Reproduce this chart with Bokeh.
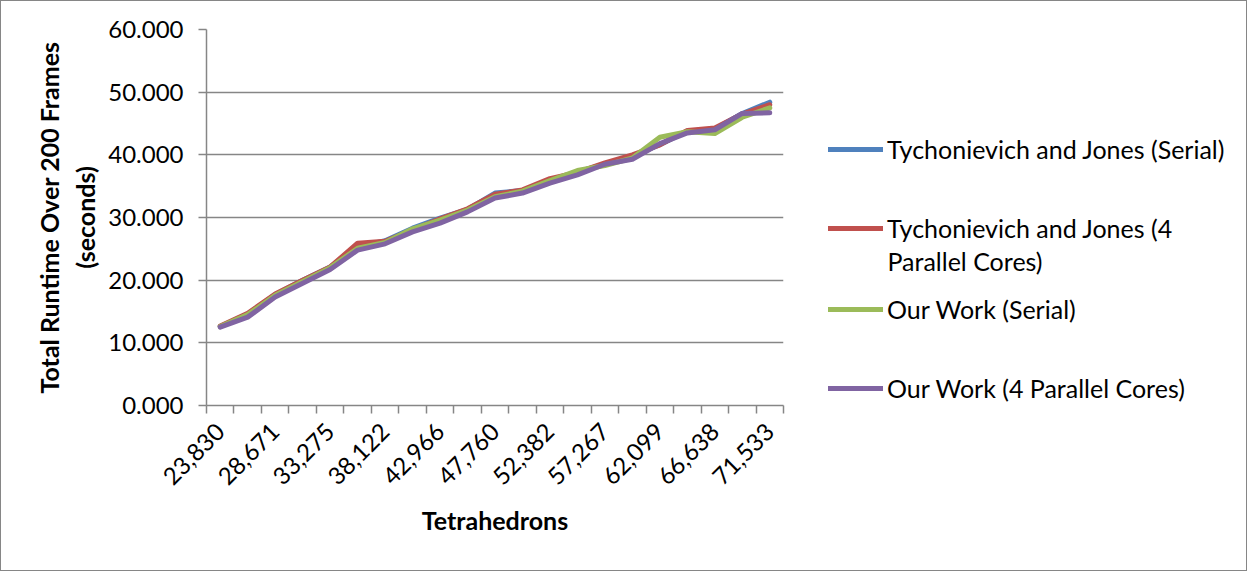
import math
from bokeh.plotting import figure
from bokeh.layouts import row
from bokeh.models import (ColumnDataSource, FixedTicker, NumeralTickFormatter,
                          Legend, LegendItem, Label)
from bokeh.embed import file_html
from bokeh.resources import INLINE

# ---------------- data ----------------
tick_labels = ["23,830", "28,671", "33,275", "38,122", "42,966", "47,760",
               "52,382", "57,267", "62,099", "66,638", "71,533"]
n_points = 21
x_idx = list(range(1, n_points + 1))

tj_serial = [12.6, 14.6, 17.7, 20.0, 22.1, 25.3, 26.3, 28.3, 29.9, 31.3, 33.9,
             34.3, 36.0, 37.2, 38.6, 39.8, 41.6, 43.8, 44.1, 46.6, 48.4]
tj_parallel = [12.7, 14.7, 17.8, 20.0, 22.1, 25.9, 26.2, 28.0, 29.8, 31.4, 33.7,
               34.4, 36.2, 37.2, 38.7, 40.0, 41.6, 43.9, 44.3, 46.5, 48.0]
ow_serial = [12.6, 14.5, 17.6, 19.8, 22.0, 25.1, 26.0, 28.2, 29.6, 31.2, 33.3,
             34.2, 35.9, 37.5, 38.3, 39.5, 42.8, 43.7, 43.4, 46.0, 47.5]
ow_parallel = [12.5, 14.1, 17.3, 19.5, 21.7, 24.8, 25.8, 27.7, 29.1, 30.9, 33.1,
               33.9, 35.5, 36.8, 38.5, 39.3, 41.8, 43.5, 44.0, 46.6, 46.7]

series_names = ["Tychonievich and Jones (Serial)",
                "Tychonievich and Jones (4",
                "Our Work (Serial)",
                "Our Work (4 Parallel Cores)"]
series_values = [tj_serial, tj_parallel, ow_serial, ow_parallel]
colors = ["#4F81BD", "#C0504D", "#9BBB59", "#8064A2"]

FONT = "Lato"
AXIS_COLOR = "#868686"
LINE_W = 5

# ---------------- main chart ----------------
p = figure(width=800, height=569, output_backend="svg", toolbar_location=None,
           x_range=(0.5, n_points + 0.5), y_range=(0, 60),
           min_border_left=205, min_border_right=18,
           min_border_top=28, min_border_bottom=165)
p.outline_line_color = None

sources = []
for vals, col in zip(series_values, colors):
    src = ColumnDataSource(dict(x=x_idx, y=vals))
    sources.append(src)
    p.line("x", "y", source=src, line_color=col, line_width=LINE_W,
           line_join="round", line_cap="round")

# y axis
p.yaxis.ticker = FixedTicker(ticks=[0, 10, 20, 30, 40, 50, 60])
p.yaxis.formatter = NumeralTickFormatter(format="0.000")
p.yaxis.axis_line_color = AXIS_COLOR
p.yaxis.axis_line_width = 1.5
p.yaxis.major_tick_line_color = AXIS_COLOR
p.yaxis.major_tick_line_width = 1.5
p.yaxis.major_tick_in = 0
p.yaxis.major_tick_out = 8
p.yaxis.minor_tick_line_color = None
p.yaxis.major_label_standoff = 15
p.yaxis.major_label_text_font = FONT
p.yaxis.major_label_text_font_size = "24px"
p.yaxis.major_label_text_color = "black"
p.yaxis.axis_label = "Total Runtime Over 200 Frames\n(seconds)"
p.yaxis.axis_label_text_font = FONT
p.yaxis.axis_label_text_font_style = "bold"
p.yaxis.axis_label_text_font_size = "25px"
p.yaxis.axis_label_text_color = "black"
p.yaxis.axis_label_standoff = 5

# x axis: labels at every other category, ticks at category boundaries
label_pos = x_idx[::2]
p.xaxis.ticker = FixedTicker(ticks=label_pos,
                             minor_ticks=[i + 0.5 for i in range(0, n_points + 1)])
p.xaxis.major_label_overrides = {pos: lab for pos, lab in zip(label_pos, tick_labels)}
p.xaxis.major_label_orientation = math.pi / 4
p.xaxis.axis_line_color = AXIS_COLOR
p.xaxis.axis_line_width = 1.5
p.xaxis.major_tick_line_color = None
p.xaxis.major_tick_in = 0
p.xaxis.major_tick_out = 0
p.xaxis.minor_tick_line_color = AXIS_COLOR
p.xaxis.minor_tick_line_width = 1.5
p.xaxis.minor_tick_in = 0
p.xaxis.minor_tick_out = 8
p.xaxis.major_label_standoff = 14
p.xaxis.major_label_text_font = FONT
p.xaxis.major_label_text_font_size = "24px"
p.xaxis.major_label_text_color = "black"
p.xaxis.axis_label = "Tetrahedrons"
p.xaxis.axis_label_text_font = FONT
p.xaxis.axis_label_text_font_style = "bold"
p.xaxis.axis_label_text_font_size = "25px"
p.xaxis.axis_label_text_color = "black"
p.xaxis.axis_label_standoff = 9

p.xgrid.grid_line_color = None
p.ygrid.grid_line_color = AXIS_COLOR
p.ygrid.grid_line_width = 1.5

# ---------------- legend panel ----------------
lp = figure(width=445, height=569, output_backend="svg", toolbar_location=None,
            x_range=(-100, -90), y_range=(0, 1),
            x_axis_location=None, y_axis_location=None,
            min_border=0)
lp.outline_line_color = None
lp.grid.grid_line_color = None

legend_renderers = []
for src, col in zip(sources, colors):
    r = lp.line("x", "y", source=src, line_color=col, line_width=LINE_W,
                line_cap="round")
    legend_renderers.append(r)

legend_y = [241, 162, 81, 2]
for name, r, ly in zip(series_names, legend_renderers, legend_y):
    lg = Legend(items=[LegendItem(label=name, renderers=[r])],
                location=(27, ly), orientation="vertical",
                glyph_width=55, glyph_height=30, label_height=30,
                label_standoff=4, padding=0, margin=0, spacing=0,
                border_line_color=None, background_fill_alpha=0,
                label_text_font=FONT, label_text_font_size="25px",
                label_text_color="black")
    lp.add_layout(lg, "center")

lp.add_layout(Label(x=86, y=145, x_units="screen", y_units="screen",
                    text="Parallel Cores)", text_baseline="middle",
                    text_font=FONT, text_font_size="25px", text_color="black"))

layout = row(p, lp, spacing=0)
layout.styles = {"border": "1px solid #868686"}

open("out.html", "w").write(file_html(layout, INLINE))
